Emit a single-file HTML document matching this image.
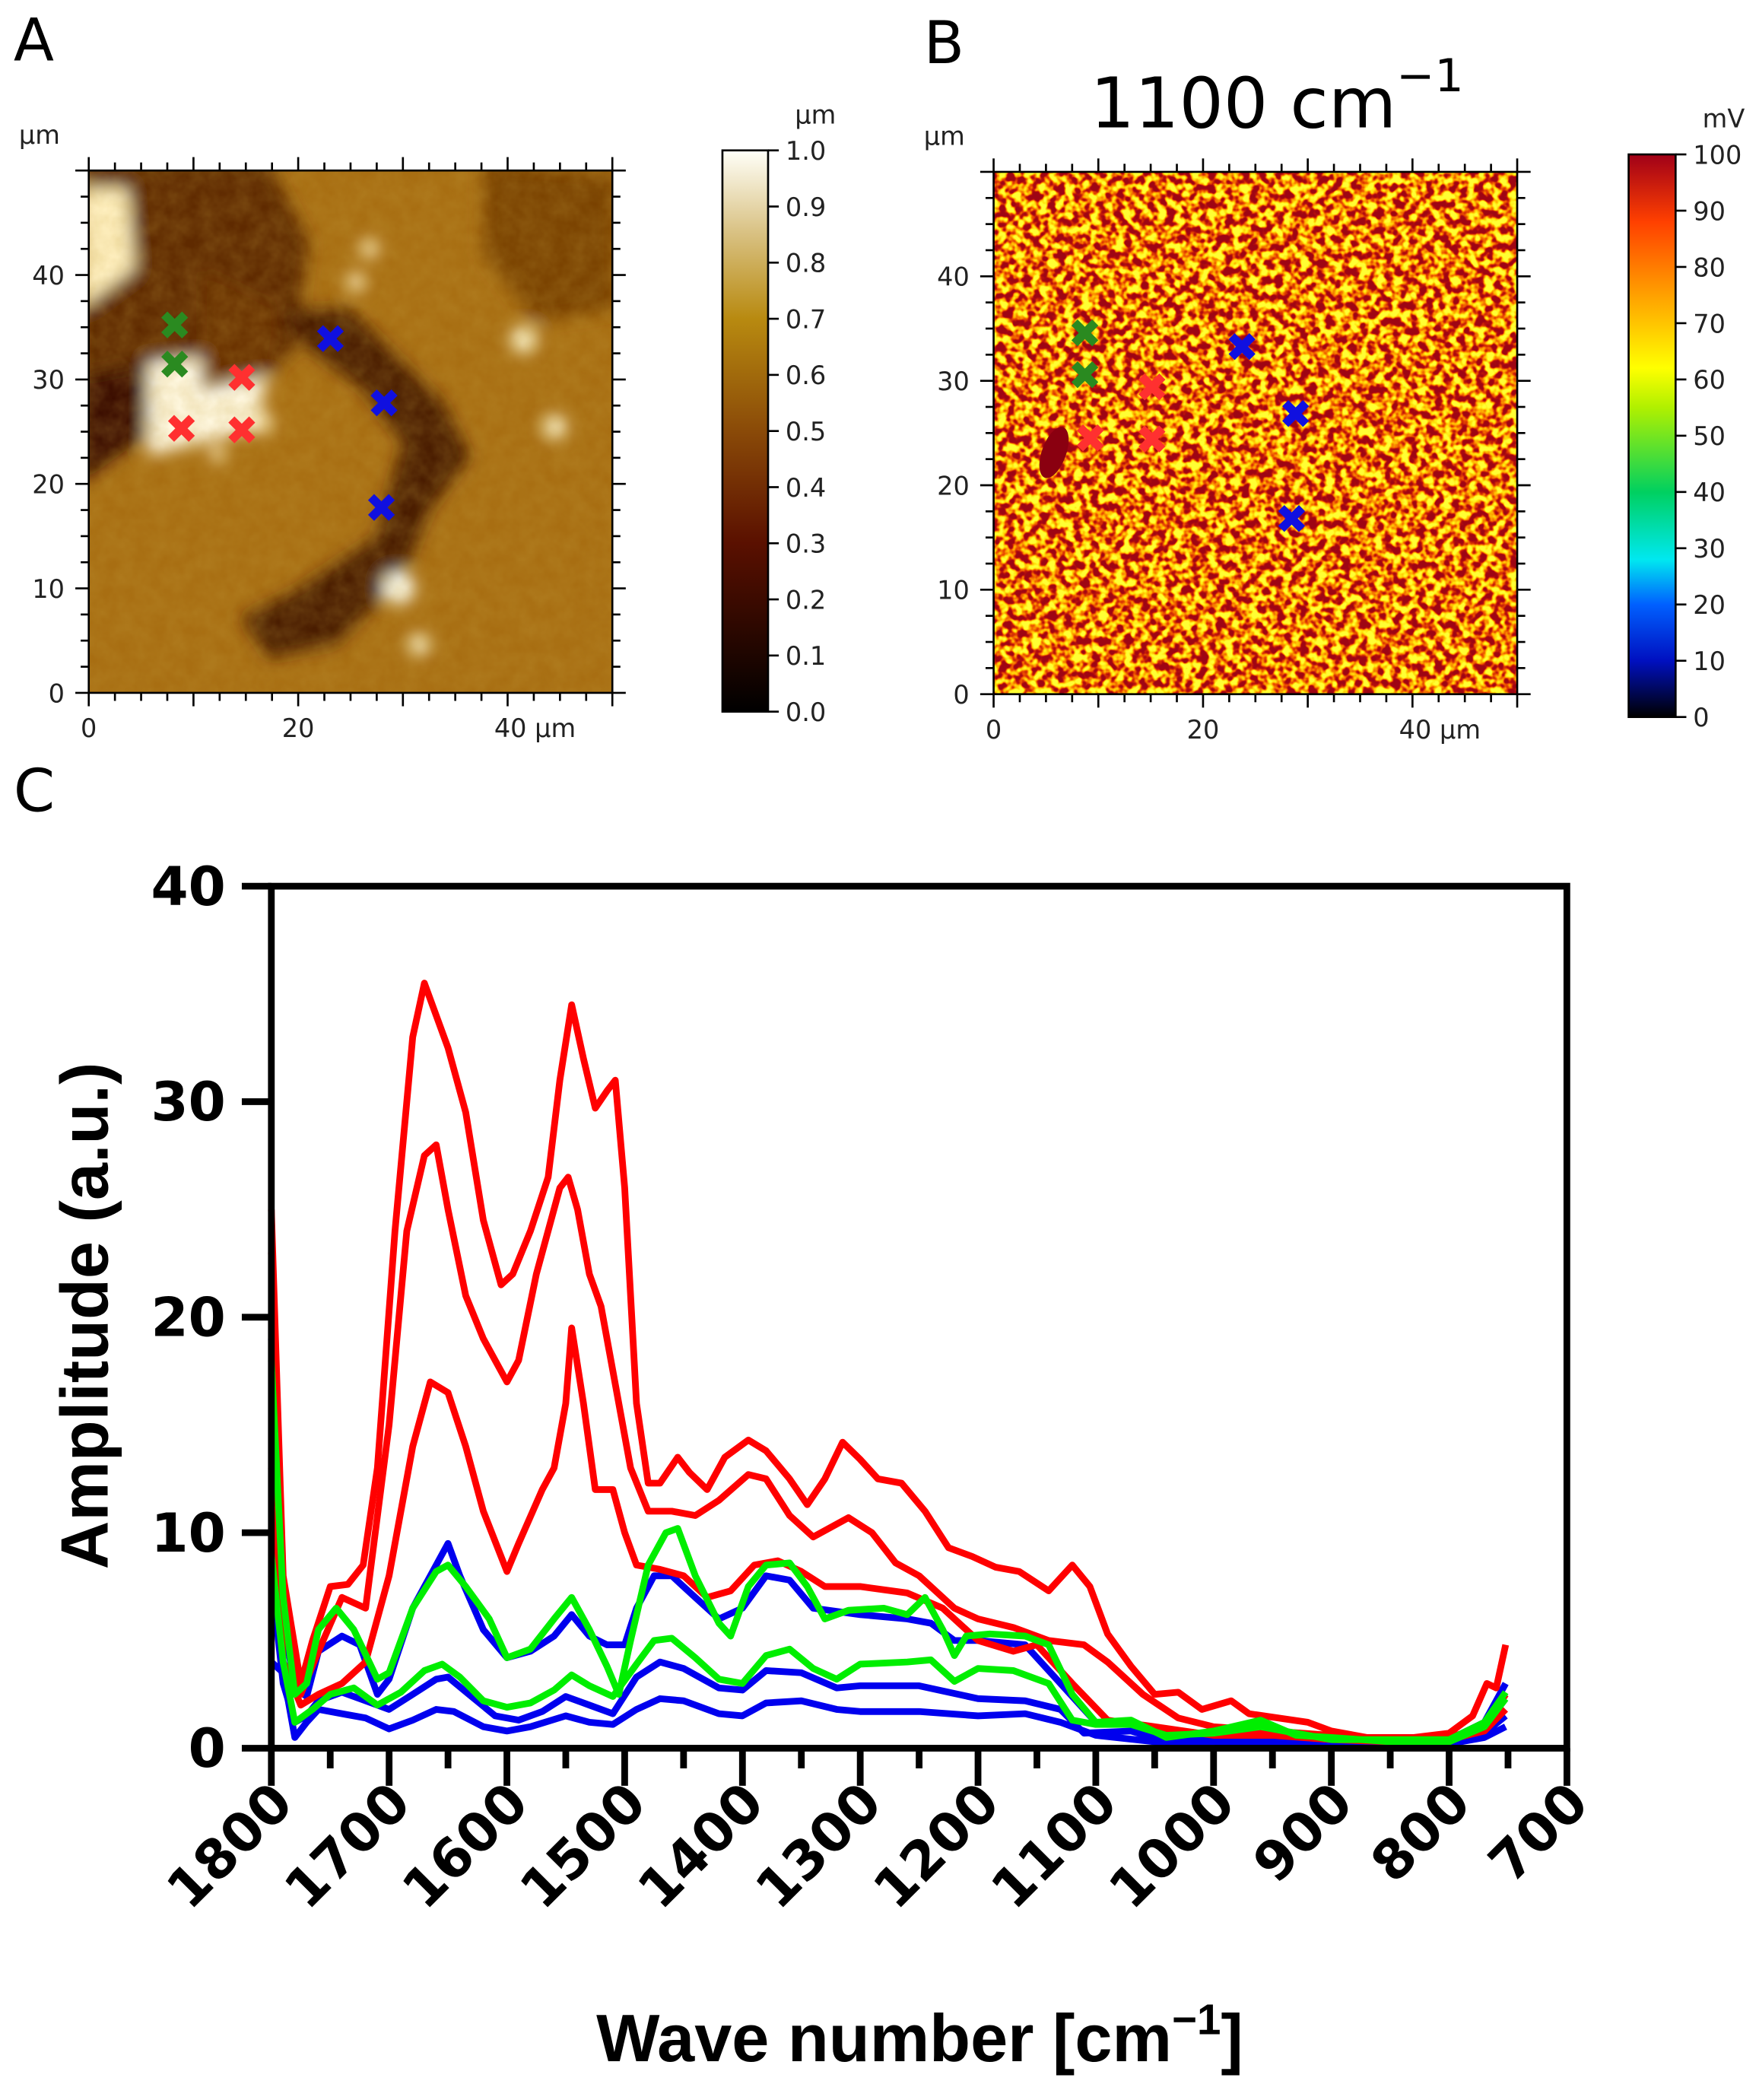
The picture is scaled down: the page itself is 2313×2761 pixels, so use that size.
<!DOCTYPE html>
<html><head><meta charset="utf-8"><style>
html,body{margin:0;padding:0;background:#fff}
svg{display:block}
text{font-family:"DejaVu Sans","Liberation Sans",sans-serif}
.b{font-family:"Liberation Sans",sans-serif;font-weight:bold}
</style></head><body>
<svg id="s" width="2313" height="2761" viewBox="0 0 1310 1564" xmlns="http://www.w3.org/2000/svg">
<defs>
<linearGradient id="gA" x1="0" y1="1" x2="0" y2="0">
<stop offset="0" stop-color="#000"/><stop offset="0.3" stop-color="#5a1000"/><stop offset="0.5" stop-color="#8a4a08"/><stop offset="0.7" stop-color="#b88a10"/><stop offset="0.85" stop-color="#d8c080"/><stop offset="1" stop-color="#fffff8"/></linearGradient>
<linearGradient id="gB" x1="0" y1="1" x2="0" y2="0">
<stop offset="0" stop-color="#000"/><stop offset="0.1" stop-color="#0010c0"/><stop offset="0.2" stop-color="#0060ff"/><stop offset="0.28" stop-color="#00e8f0"/><stop offset="0.4" stop-color="#00d060"/><stop offset="0.55" stop-color="#b0f000"/><stop offset="0.62" stop-color="#ffff00"/><stop offset="0.75" stop-color="#ffa000"/><stop offset="0.88" stop-color="#ff4000"/><stop offset="1" stop-color="#a00018"/></linearGradient>
<filter id="nA" x="0" y="0" width="1" height="1"><feTurbulence type="fractalNoise" baseFrequency="0.08" numOctaves="3" seed="3"/><feColorMatrix type="matrix" values="0 0 0 0 0.55 0 0 0 0 0.35 0 0 0 0 0.05 0 0 0 0.6 -0.1"/></filter>
<filter id="nB" x="0" y="0" width="1" height="1" color-interpolation-filters="sRGB"><feTurbulence type="fractalNoise" baseFrequency="0.16" numOctaves="2" seed="7"/>
<feColorMatrix type="matrix" values="1 0 0 0 0 1 0 0 0 0 1 0 0 0 0 0 0 0 0 1"/>
<feComponentTransfer><feFuncR type="linear" slope="3" intercept="-1.0"/><feFuncG type="linear" slope="3" intercept="-1.0"/><feFuncB type="linear" slope="3" intercept="-1.0"/></feComponentTransfer>
<feComponentTransfer><feFuncR type="table" tableValues="0.62 0.72 0.92 1 1 1"/><feFuncG type="table" tableValues="0.02 0.06 0.3 0.65 0.9 1"/><feFuncB type="table" tableValues="0.08 0.05 0 0 0.05 0.2"/></feComponentTransfer></filter>
<filter id="bl"><feGaussianBlur stdDeviation="6"/></filter>
<clipPath id="cA"><rect x="66" y="127" width="390" height="389"/></clipPath>
</defs>
<text x="10" y="45" font-size="44">A</text>
<text x="688" y="47" font-size="44">B</text>
<text x="10" y="604" font-size="44">C</text>
<text x="812" y="95" font-size="52">1100 cm</text>
<text x="1040" y="68" font-size="34">−1</text>
<g clip-path="url(#cA)">
<rect x="66" y="127" width="390" height="389" fill="#a86e12"/>
<g filter="url(#bl)">
<path d="M60,120 L200,120 L230,180 L220,260 L180,300 L120,320 L60,340Z" fill="#5e2a04"/>
<path d="M200,230 L260,230 L300,270 L330,300 L350,340 L320,380 L300,430 L250,480 L200,490 L180,460 L220,440 L280,400 L300,330 L270,290 L230,260Z" fill="#4a1a02"/>
<path d="M60,280 L110,270 L115,320 L60,360Z" fill="#3a1000"/>
<path d="M110,270 L160,265 L200,280 L190,320 L150,330 L110,340Z" fill="#fff8e0"/>
<path d="M60,140 L95,140 L100,200 L60,230Z" fill="#fff0c0"/>
<path d="M360,120 L460,130 L460,230 L400,240 L360,190Z" fill="#7a4206"/>
<path d="M150,200 L210,230 L200,280 L150,290Z" fill="#6a3004"/>
<circle cx="297" cy="438" r="12" fill="#fffff0"/><circle cx="390" cy="253" r="10" fill="#fff8d0"/><circle cx="413" cy="318" r="9" fill="#fff8d0"/>
<circle cx="265" cy="210" r="7" fill="#fff0c0"/><circle cx="275" cy="185" r="7" fill="#fff0c0"/><circle cx="312" cy="480" r="8" fill="#fff8d0"/><circle cx="162" cy="338" r="6" fill="#fff0c0"/><circle cx="195" cy="315" r="8" fill="#fff0c0"/>
</g>
<rect x="66" y="127" width="390" height="389" filter="url(#nA)" opacity="0.55"/>
</g>
<rect x="740" y="128" width="390" height="389" filter="url(#nB)"/>
<ellipse cx="785" cy="337" rx="9" ry="20" transform="rotate(20 785 337)" fill="#8a0010"/>
<rect x="538" y="112" width="34" height="418" fill="url(#gA)" stroke="#000" stroke-width="1.5"/>
<rect x="1213" y="115" width="35" height="419" fill="url(#gB)" stroke="#000" stroke-width="1.5"/>
<g id="marks" font-weight="bold" font-size="30" text-anchor="middle" font-family="Liberation Sans,sans-serif"></g>
<g id="ax" stroke="#000" fill="none"></g>
<g id="txt" font-size="19" fill="#222"></g>
<g id="curves" fill="none" stroke-width="5" stroke-linejoin="round"></g>
<rect x="202" y="660" width="965" height="642" fill="none" stroke="#000" stroke-width="5"/>
<g id="cax" stroke="#000" stroke-width="5"></g>
<g id="ctx" class="b" font-size="40"></g>
<text class="b" x="685" y="1535" font-size="50" text-anchor="middle">Wave number [cm<tspan dy="-20" font-size="32">−1</tspan><tspan dy="20">]</tspan></text>
<text class="b" font-size="50" text-anchor="middle" transform="translate(80,980) rotate(-90)">Amplitude (a.u.)</text>
</svg>
<script>
var NS="http://www.w3.org/2000/svg";
function el(p,t,a,tx){var e=document.createElementNS(NS,t);for(var k in a)e.setAttribute(k,a[k]);if(tx!=null)e.textContent=tx;document.getElementById(p).appendChild(e);return e;}
function mapAxes(x0,y0,x1,y1){
 var s=(x1-x0)/50, sy=(y1-y0)/50;
 for(var v=0;v<=50;v+=2.5){var maj=(v%10==0);var L=maj?10:6;var x=x0+v*s,y=y1-v*sy;
  el("ax","line",{x1:x,y1:y0,x2:x,y2:y0-L,"stroke-width":1.5});
  el("ax","line",{x1:x,y1:y1,x2:x,y2:y1+L,"stroke-width":1.5});
  el("ax","line",{x1:x0,y1:y,x2:x0-L,y2:y,"stroke-width":1.5});
  el("ax","line",{x1:x1,y1:y,x2:x1+L,y2:y,"stroke-width":1.5});}
 el("ax","rect",{x:x0,y:y0,width:x1-x0,height:y1-y0,"stroke-width":1.5});
 [0,10,20,30,40].forEach(function(v){el("txt","text",{x:x0-18,y:y1-v*sy+7,"text-anchor":"end"},v);});
 el("txt","text",{x:x0,y:y1+33,"text-anchor":"middle"},"0");
 el("txt","text",{x:x0+20*s,y:y1+33,"text-anchor":"middle"},"20");
 el("txt","text",{x:x0+40*s-10,y:y1+33},"40 μm");
 el("txt","text",{x:x0-52,y:y0-20},"μm");
}
mapAxes(66,127,456,516);mapAxes(740,128,1130,517);
function cbar(x,y0,y1,lab,fmt,unit,ux){for(var i=0;i<=10;i++){var y=y1-(y1-y0)*i/10;el("ax","line",{x1:x,y1:y,x2:x+8,y2:y,"stroke-width":1.5});el("txt","text",{x:x+13,y:y+7},fmt(i));}
 el("txt","text",{x:ux,y:y0-20},unit);}
cbar(572,112,530,0,function(i){return (i/10).toFixed(1)},"μm",592);
cbar(1248,115,534,0,function(i){return i*10},"mV",1268);
[[130,242,"#2a8a20"],[130,271,"#2a8a20"],[135,319,"#ff3030"],[180,281,"#ff3030"],[180,320,"#ff3030"],[246,252,"#1010e0"],[286,300,"#1010e0"],[284,378,"#1010e0"],
 [808,248,"#2a8a20"],[808,279,"#2a8a20"],[858,288,"#ff3030"],[812,326,"#ff3030"],[858,327,"#ff3030"],[925,258,"#1010e0"],[965,308,"#1010e0"],[962,386,"#1010e0"]].forEach(function(m){el("marks","text",{x:m[0],y:m[1]+11,fill:m[2]},"✖");});
function X(w){return 202+(1800-w)*0.8773;} function Y(a){return 1302-a*16.05;}
for(var w=1800;w>=700;w-=50){var maj=w%100==0;el("cax","line",{x1:X(w),y1:1302,x2:X(w),y2:1302+(maj?28:15)});
 if(maj){el("ctx","text",{"text-anchor":"end",transform:"translate("+(X(w)+18)+",1345) rotate(-45)"},w);}}
for(var a=0;a<=40;a+=10){el("cax","line",{x1:202,y1:Y(a),x2:180,y2:Y(a)});el("ctx","text",{x:168,y:Y(a)+14,"text-anchor":"end"},a);}
function curve(col,pts){var d="";for(var i=0;i<pts.length;i+=2){d+=(i?"L":"M")+X(pts[i]).toFixed(1)+","+Y(pts[i+1]).toFixed(1);}el("curves","path",{d:d,stroke:col});}
var R="#ff0000",B="#0000ee",G="#00ee00";
curve(B,[1800,4,1790,3.5,1780,0.5,1770,1.2,1760,1.8,1740,1.6,1720,1.4,1700,0.9,1680,1.3,1660,1.8,1645,1.7,1620,1.0,1600,0.8,1580,1.0,1550,1.5,1530,1.2,1510,1.1,1490,1.8,1470,2.3,1450,2.2,1420,1.6,1400,1.5,1380,2.1,1350,2.2,1320,1.8,1300,1.7,1250,1.7,1200,1.5,1160,1.6,1130,1.2,1100,0.6,1050,0.3,1000,0.3,950,0.2,900,0.1,850,0.1,800,0.2,770,0.5,752,1.0]);
curve(B,[1800,8,1790,3,1780,1.2,1770,1.5,1760,2.2,1740,2.6,1720,2.2,1700,1.8,1680,2.5,1660,3.2,1650,3.3,1630,2.4,1610,1.5,1590,1.3,1570,1.7,1550,2.4,1530,2.0,1510,1.6,1490,3.3,1470,4,1450,3.7,1420,2.8,1400,2.7,1380,3.6,1350,3.5,1320,2.8,1300,2.9,1250,2.9,1200,2.3,1160,2.2,1130,1.8,1110,0.7,1070,0.8,1040,0.3,1000,0.5,950,0.5,900,0.2,850,0.2,800,0.3,770,0.7,752,1.5]);
curve(B,[1800,19,1790,6,1780,2.8,1770,2.4,1760,4.5,1740,5.2,1725,4.8,1710,2.5,1700,3.2,1680,6.5,1660,8.5,1650,9.5,1640,8,1620,5.5,1600,4.2,1580,4.5,1560,5.2,1545,6.2,1530,5.2,1515,4.8,1500,4.8,1490,6.5,1475,8,1460,8,1440,7,1420,6,1400,6.5,1380,8,1360,7.8,1340,6.5,1300,6.2,1260,6,1240,5.8,1220,5,1200,5,1160,4.8,1130,3,1100,1.2,1080,1.2,1040,0.8,1000,0.6,950,0.7,900,0.4,850,0.3,800,0.4,770,1.2,752,3.0]);
curve(R,[1800,13,1790,4,1775,2,1760,2.5,1740,3,1720,4,1700,8,1680,14,1665,17,1650,16.5,1635,14,1620,11,1600,8.2,1590,9.5,1570,12,1560,13,1550,16,1545,19.5,1535,16,1525,12,1510,12,1500,10,1490,8.5,1470,8.3,1450,8,1430,7,1410,7.3,1390,8.5,1370,8.7,1350,8.2,1330,7.5,1300,7.5,1260,7.2,1230,6.5,1200,5,1170,4.5,1150,4.8,1120,3,1090,1.3,1050,1.0,1000,0.6,950,0.6,900,0.4,850,0.3,800,0.5,770,1.0,752,2.5]);
curve(R,[1800,23,1790,6,1775,2.5,1760,4.5,1740,7,1720,6.5,1700,15,1685,24,1670,27.5,1660,28,1650,25,1635,21,1620,19,1600,17,1590,18,1575,22,1555,26,1548,26.5,1540,25,1530,22,1520,20.5,1510,17.5,1495,13,1480,11,1460,11,1440,10.8,1420,11.5,1395,12.7,1380,12.5,1360,10.8,1340,9.8,1310,10.7,1290,10.0,1270,8.6,1250,8,1220,6.5,1200,6,1170,5.6,1140,5.0,1110,4.8,1090,4.0,1060,2.5,1030,1.4,1000,1.0,950,0.8,900,0.6,850,0.3,800,0.4,770,0.8,752,1.8]);
curve(R,[1800,25,1790,8,1775,3,1765,5,1750,7.5,1735,7.6,1722,8.5,1710,13,1695,24,1680,33,1670,35.5,1660,34,1650,32.5,1635,29.5,1620,24.5,1605,21.5,1595,22,1580,24,1565,26.5,1555,31,1545,34.5,1535,32,1525,29.7,1515,30.5,1508,31,1500,26,1490,16,1480,12.3,1470,12.3,1455,13.5,1445,12.8,1430,12,1415,13.5,1395,14.3,1380,13.8,1360,12.5,1345,11.3,1330,12.5,1315,14.2,1300,13.4,1285,12.5,1265,12.3,1245,11,1225,9.3,1205,8.9,1185,8.4,1165,8.2,1140,7.3,1120,8.5,1105,7.5,1090,5.3,1070,3.8,1050,2.5,1030,2.6,1010,1.8,985,2.2,970,1.6,945,1.4,920,1.2,900,0.8,870,0.5,830,0.5,800,0.7,780,1.5,768,3.0,760,2.8,752,4.8]);
curve(G,[1800,9,1790,4,1780,1.2,1765,1.8,1750,2.5,1730,2.8,1710,2.0,1690,2.6,1670,3.6,1655,3.9,1640,3.3,1620,2.2,1600,1.9,1580,2.1,1560,2.7,1545,3.4,1530,2.9,1510,2.4,1490,3.9,1475,5.0,1460,5.1,1440,4.2,1420,3.2,1400,3.0,1380,4.3,1360,4.6,1340,3.7,1320,3.2,1300,3.9,1260,4.0,1240,4.1,1220,3.1,1200,3.7,1170,3.6,1140,3.0,1120,1.3,1100,1.1,1070,1.1,1040,0.6,1000,0.7,960,1.0,900,0.4,850,0.4,800,0.4,770,1.2,752,2.6]);
curve(G,[1800,18,1790,7,1780,2.5,1770,3,1760,5.5,1745,6.5,1730,5.5,1710,3.2,1700,3.5,1680,6.5,1660,8.2,1650,8.5,1635,7.5,1615,6,1600,4.2,1580,4.6,1560,6,1545,7,1530,5.5,1515,3.8,1505,2.5,1495,5,1480,8.5,1465,10,1455,10.2,1440,8,1420,5.8,1410,5.2,1395,7.5,1380,8.5,1360,8.6,1345,7.5,1330,6,1310,6.4,1280,6.5,1260,6.2,1245,7.0,1230,5.5,1220,4.3,1210,5.2,1190,5.3,1160,5.2,1140,4.8,1120,2.5,1100,1.2,1070,1.3,1040,0.5,1000,0.8,960,1.3,930,0.6,900,0.5,850,0.3,800,0.3,770,1.0,752,2.3]);
</script>
</body></html>
